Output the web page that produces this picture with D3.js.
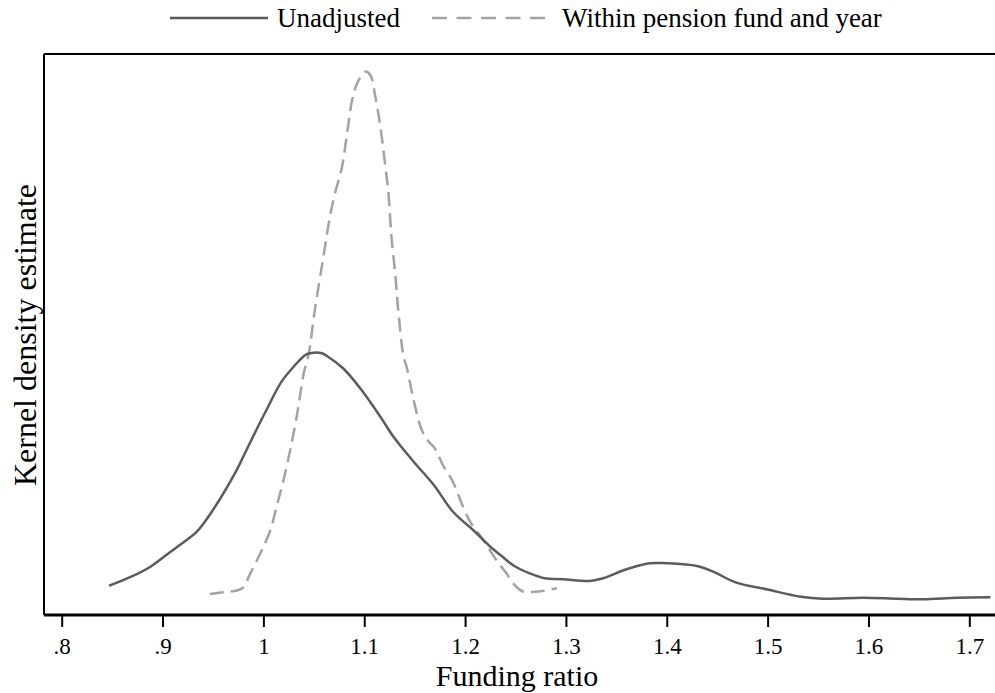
<!DOCTYPE html>
<html>
<head>
<meta charset="utf-8">
<script src="https://cdn.jsdelivr.net/npm/d3@7"></script>
<style>
  body { margin: 0; background: #fff; }
  svg { display: block; }
</style>
</head>
<body>
<svg id="chart" width="995" height="693"></svg>
<script>
// ---- Data ----
const xTicks = [0.8, 0.9, 1.0, 1.1, 1.2, 1.3, 1.4, 1.5, 1.6, 1.7];
const xTickLabels = [".8", ".9", "1", "1.1", "1.2", "1.3", "1.4", "1.5", "1.6", "1.7"];
const seriesNames = ["Unadjusted", "Within pension fund and year"];

const unadjustedX = [0.847,0.869,0.888,0.908,0.917,0.934,0.950,0.974,0.980,0.993,1.003,1.018,1.030,1.036,1.043,1.050,1.058,1.063,1.079,1.096,1.116,1.129,1.149,1.169,1.188,1.208,1.225,1.235,1.248,1.264,1.279,1.297,1.324,1.337,1.360,1.383,1.400,1.430,1.446,1.469,1.499,1.533,1.555,1.595,1.628,1.654,1.688,1.721];
const unadjustedY = [0.522,0.683,0.861,1.128,1.248,1.485,1.872,2.600,2.822,3.298,3.654,4.159,4.426,4.545,4.652,4.676,4.665,4.617,4.398,4.041,3.535,3.178,2.733,2.317,1.841,1.515,1.217,1.070,0.882,0.743,0.654,0.636,0.606,0.654,0.815,0.922,0.922,0.873,0.772,0.576,0.458,0.326,0.291,0.308,0.291,0.280,0.308,0.316];

const withinX = [0.947,0.960,0.979,0.987,0.997,1.007,1.013,1.020,1.028,1.033,1.036,1.040,1.045,1.051,1.059,1.066,1.071,1.078,1.083,1.088,1.093,1.101,1.106,1.111,1.116,1.121,1.124,1.127,1.131,1.134,1.139,1.142,1.149,1.157,1.164,1.170,1.178,1.188,1.198,1.205,1.218,1.225,1.231,1.241,1.250,1.258,1.269,1.278,1.291];
const withinY = [0.374,0.405,0.476,0.743,1.100,1.515,1.930,2.406,3.061,3.535,3.863,4.308,4.665,5.437,6.328,7.100,7.517,7.991,8.586,9.180,9.478,9.685,9.626,9.239,8.704,7.991,7.517,6.743,6.030,5.378,4.604,4.426,3.830,3.298,3.089,2.971,2.674,2.371,1.930,1.663,1.337,1.141,0.980,0.743,0.517,0.415,0.415,0.433,0.476];

(function () {
  const FONT = "'Liberation Serif', 'Times New Roman', serif";
  const svg = d3.select("#chart");
  const mLeft = 44, mRight = 995, mTop = 54, mBottom = 615;

  const x = d3.scaleLinear().domain([0.8, 1.7]).range([61.7, 969.3]);
  const y = d3.scaleLinear().domain([0, 10]).range([mBottom, mTop]);

  // Frame (top and left lines)
  svg.append("line").attr("x1", mLeft).attr("x2", mRight).attr("y1", mTop).attr("y2", mTop)
    .attr("stroke", "#000").attr("stroke-width", 2);
  svg.append("line").attr("x1", mLeft).attr("x2", mLeft).attr("y1", mTop).attr("y2", mBottom)
    .attr("stroke", "#000").attr("stroke-width", 2);

  // X axis
  const xAxis = d3.axisBottom(x)
    .tickValues(xTicks)
    .tickFormat((d, i) => xTickLabels[i])
    .tickSize(12)
    .tickPadding(6)
    .tickSizeOuter(0);
  const gx = svg.append("g").attr("transform", `translate(0,${mBottom})`).call(xAxis);
  gx.attr("font-family", null).attr("font-size", null);
  gx.select(".domain").remove();
  gx.append("line").attr("x1", mLeft).attr("x2", mRight).attr("y1", 0).attr("y2", 0)
    .attr("stroke", "#000").attr("stroke-width", 3);
  gx.selectAll(".tick line").attr("stroke", "#000").attr("stroke-width", 2);
  gx.selectAll(".tick text")
    .style("font-family", FONT)
    .style("font-size", "23px").attr("fill", "#000").attr("dy", null).attr("y", 39);

  // Axis titles
  svg.append("text").attr("x", 517).attr("y", 686).attr("text-anchor", "middle")
    .style("font-family", FONT).style("font-size", "30px").attr("fill", "#000").text("Funding ratio");
  svg.append("text").attr("transform", "translate(36,335) rotate(-90)")
    .attr("text-anchor", "middle")
    .style("font-family", FONT).style("font-size", "32px").attr("fill", "#000").text("Kernel density estimate");

  // Lines
  const line = d3.line().x(d => x(d[0])).y(d => y(d[1])).curve(d3.curveCatmullRom.alpha(0.5));
  const unadj = unadjustedX.map((v, i) => [v, unadjustedY[i]]);
  const within = withinX.map((v, i) => [v, withinY[i]]);

  svg.append("path").datum(within).attr("d", line)
    .attr("fill", "none").attr("stroke", "#a3a3a3").attr("stroke-width", 2.5)
    .attr("stroke-dasharray", "14,7");
  svg.append("path").datum(unadj).attr("d", line)
    .attr("fill", "none").attr("stroke", "#5c5c5c").attr("stroke-width", 2.5);

  // Legend
  const lg = svg.append("g");
  lg.append("line").attr("x1", 170).attr("x2", 268).attr("y1", 18).attr("y2", 18)
    .attr("stroke", "#5c5c5c").attr("stroke-width", 2.5);
  lg.append("text").attr("x", 277).attr("y", 27)
    .style("font-family", FONT).style("font-size", "27px").attr("fill", "#000").text(seriesNames[0]);
  lg.append("line").attr("x1", 432).attr("x2", 545).attr("y1", 18).attr("y2", 18)
    .attr("stroke", "#a3a3a3").attr("stroke-width", 2.5).attr("stroke-dasharray", "15,9.5");
  lg.append("text").attr("x", 562).attr("y", 27)
    .style("font-family", FONT).style("font-size", "27px").attr("fill", "#000").text(seriesNames[1]);
})();
</script>
</body>
</html>
